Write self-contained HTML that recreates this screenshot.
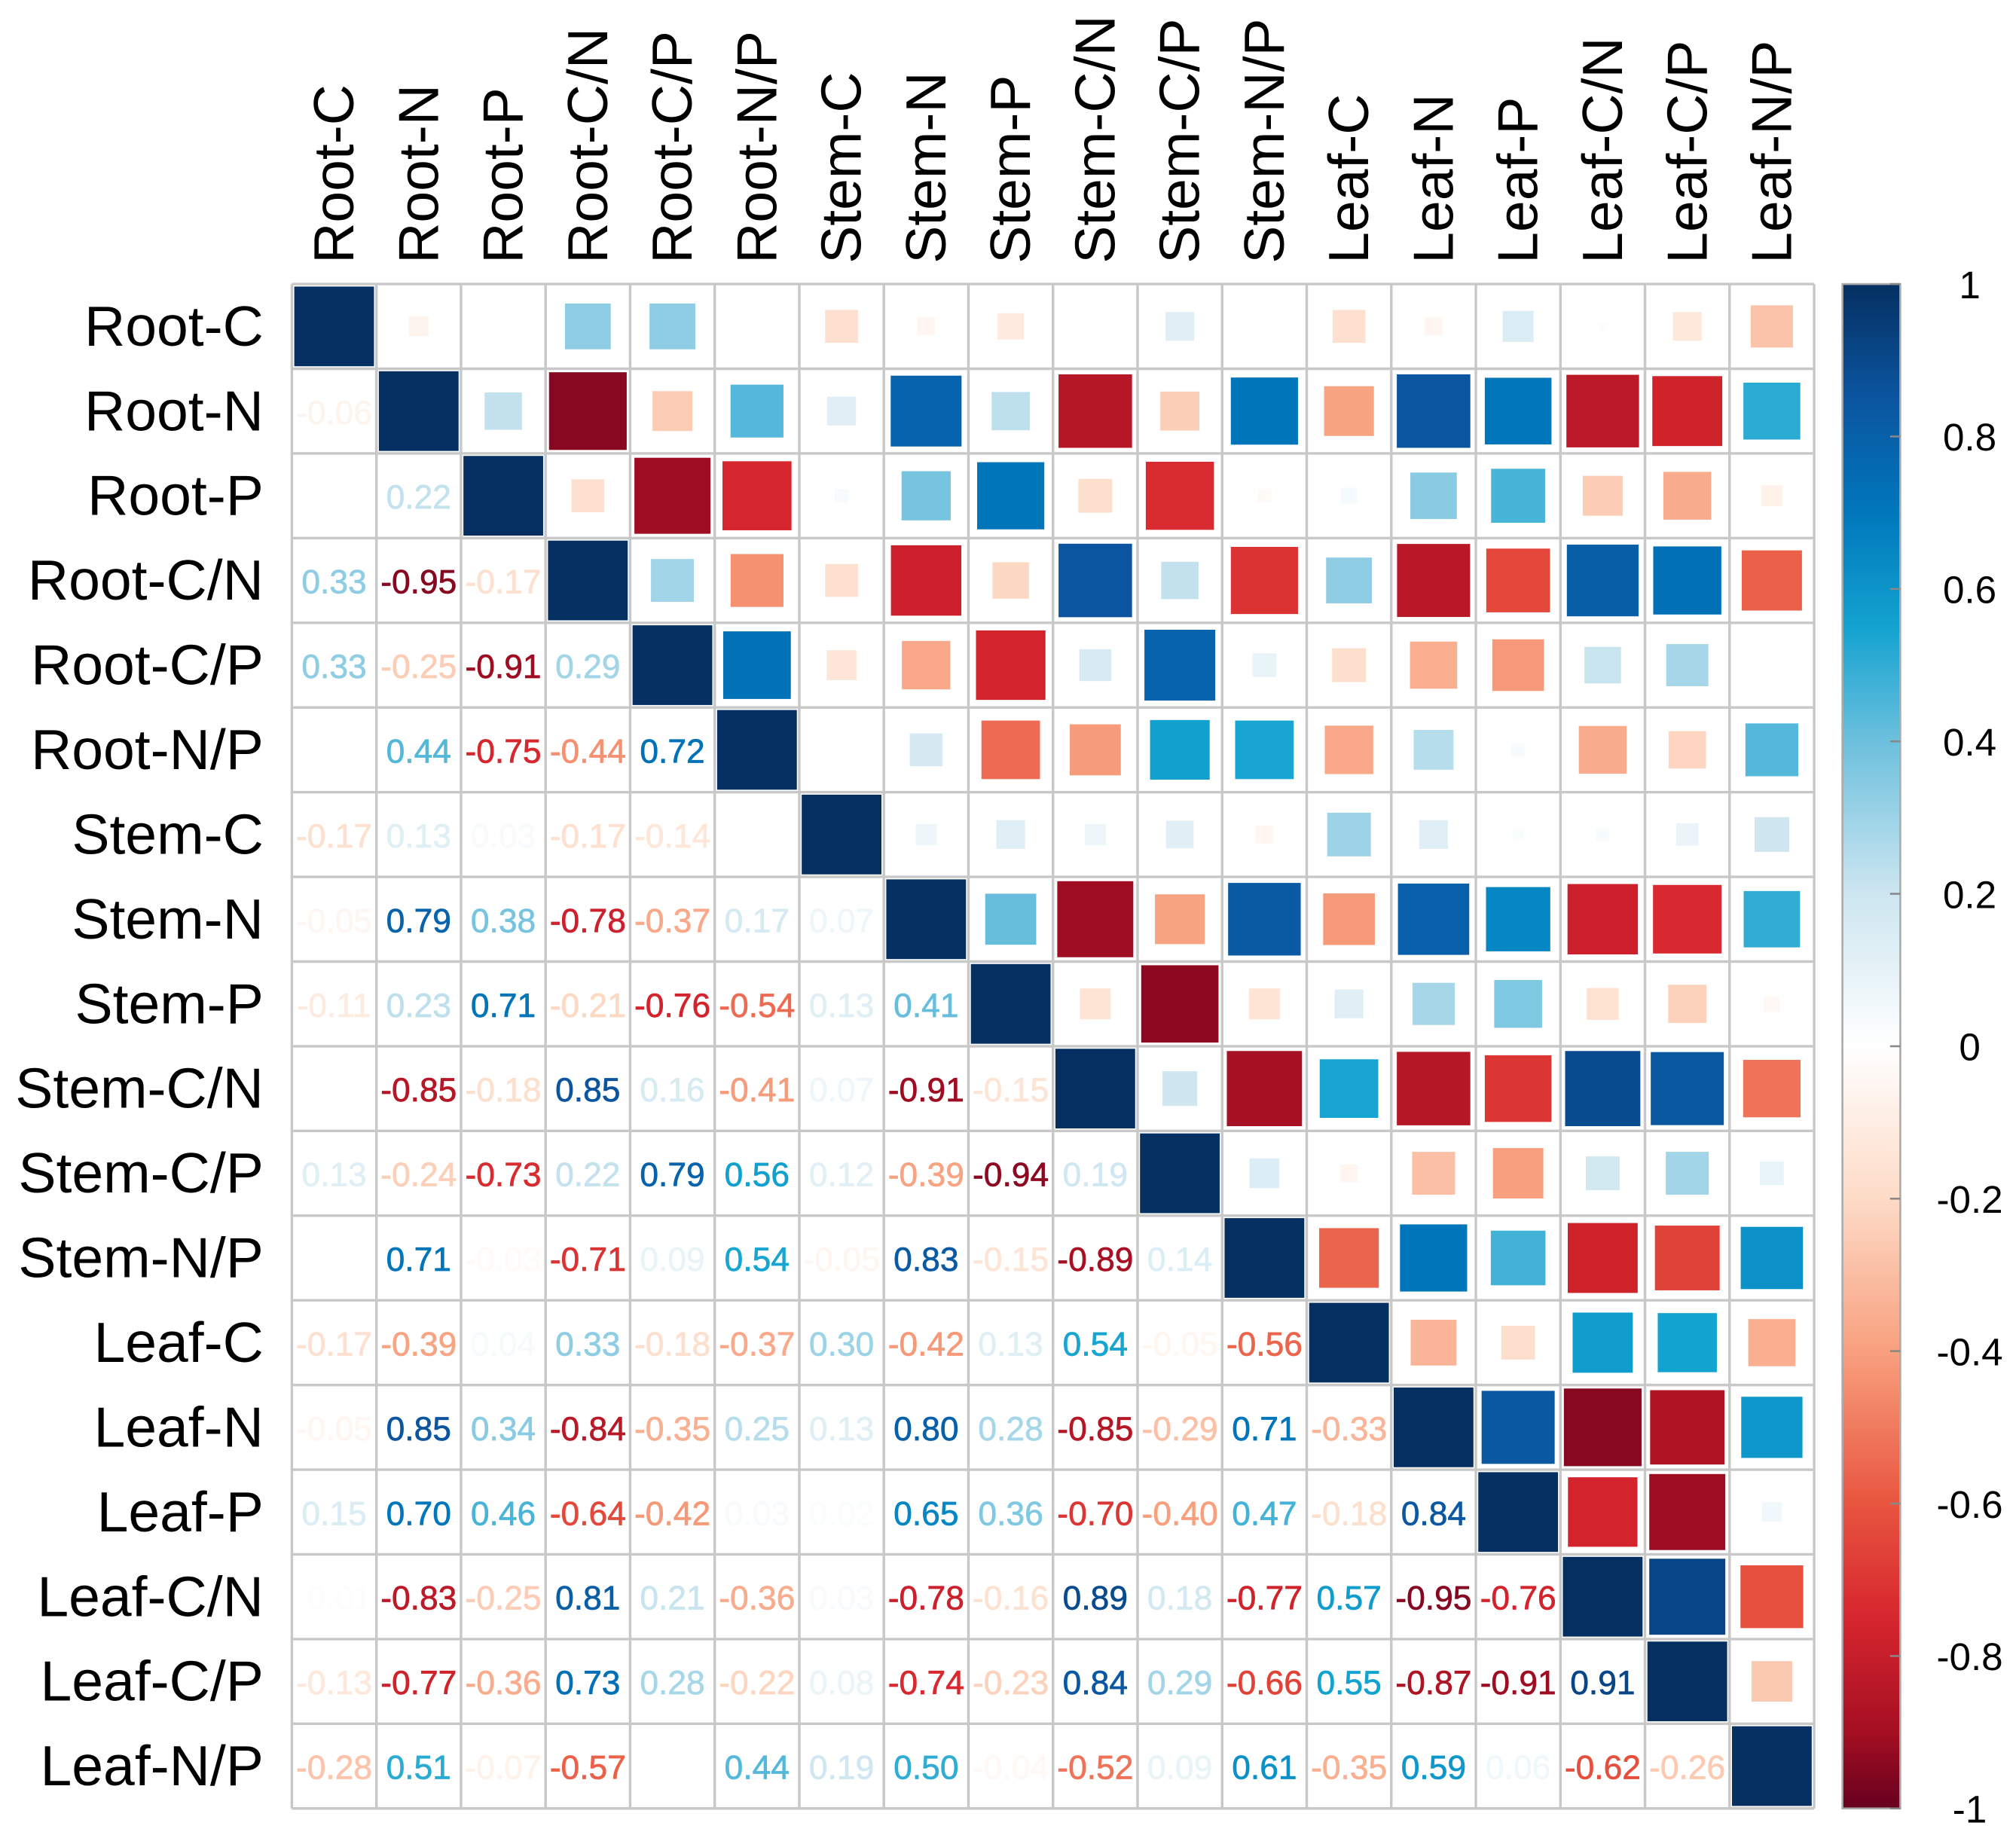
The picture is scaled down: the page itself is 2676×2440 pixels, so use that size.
<!DOCTYPE html>
<html><head><meta charset="utf-8"><style>
html,body{margin:0;padding:0;background:#fff;}
svg{display:block;}
text{font-family:"Liberation Sans",sans-serif;}
</style></head>
<body>
<svg id="chart" width="2676" height="2440" viewBox="0 0 1568 1430" preserveAspectRatio="none" xmlns="http://www.w3.org/2000/svg">
<defs>
<linearGradient id="cbar" x1="0" y1="1" x2="0" y2="0"></linearGradient>
</defs>
<g id="grid"></g>
<g id="labels"></g>
<g id="legend"></g>
</svg>
<script>
const variables = ["Root-C","Root-N","Root-P","Root-C/N","Root-C/P","Root-N/P","Stem-C","Stem-N","Stem-P","Stem-C/N","Stem-C/P","Stem-N/P","Leaf-C","Leaf-N","Leaf-P","Leaf-C/N","Leaf-C/P","Leaf-N/P"];
const lowerRows = [
 [],
 [-0.06],
 [0.00,0.22],
 [0.33,-0.95,-0.17],
 [0.33,-0.25,-0.91,0.29],
 [0.01,0.44,-0.75,-0.44,0.72],
 [-0.17,0.13,0.03,-0.17,-0.14,0.01],
 [-0.05,0.79,0.38,-0.78,-0.37,0.17,0.07],
 [-0.11,0.23,0.71,-0.21,-0.76,-0.54,0.13,0.41],
 [0.00,-0.85,-0.18,0.85,0.16,-0.41,0.07,-0.91,-0.15],
 [0.13,-0.24,-0.73,0.22,0.79,0.56,0.12,-0.39,-0.94,0.19],
 [0.01,0.71,-0.03,-0.71,0.09,0.54,-0.05,0.83,-0.15,-0.89,0.14],
 [-0.17,-0.39,0.04,0.33,-0.18,-0.37,0.30,-0.42,0.13,0.54,-0.05,-0.56],
 [-0.05,0.85,0.34,-0.84,-0.35,0.25,0.13,0.80,0.28,-0.85,-0.29,0.71,-0.33],
 [0.15,0.70,0.46,-0.64,-0.42,0.03,0.02,0.65,0.36,-0.70,-0.40,0.47,-0.18,0.84],
 [-0.01,-0.83,-0.25,0.81,0.21,-0.36,0.03,-0.78,-0.16,0.89,0.18,-0.77,0.57,-0.95,-0.76],
 [-0.13,-0.77,-0.36,0.73,0.28,-0.22,0.08,-0.74,-0.23,0.84,0.29,-0.66,0.55,-0.87,-0.91,0.91],
 [-0.28,0.51,-0.07,-0.57,0.01,0.44,0.19,0.50,-0.04,-0.52,0.09,0.61,-0.35,0.59,0.06,-0.62,-0.26]
];
const legendTicks = [1,0.8,0.6,0.4,0.2,0,-0.2,-0.4,-0.6,-0.8,-1];
const legendTickLabels = ["1","0.8","0.6","0.4","0.2","0","-0.2","-0.4","-0.6","-0.8","-1"];
const colorStops = [[-1,"#67001F"],[-0.9,"#A50F22"],[-0.75,"#D6262E"],[-0.6,"#E8553F"],[-0.4,"#F8A07E"],[-0.2,"#FDDBC7"],[0,"#FFFFFF"],[0.2,"#CDE6F0"],[0.4,"#6CC0DD"],[0.55,"#13A3D0"],[0.7,"#0077BB"],[0.85,"#0B55A0"],[1,"#053061"]];

const NS="http://www.w3.org/2000/svg";
const gx0=227, gy0=221, gx1=1411, gy1=1407, n=variables.length;
const cw=(gx1-gx0)/n, ch=(gy1-gy0)/n;
const xCell=i=>gx0+i*cw, yCell=j=>gy0+j*ch;
const cbX=1433, cbW=45, cbTop=221, cbBot=1407;
const yLegend=v=>cbTop+(1-v)/2*(cbBot-cbTop);
function hex(c){return [parseInt(c.slice(1,3),16),parseInt(c.slice(3,5),16),parseInt(c.slice(5,7),16)];}
function colorFor(v){
  for(let k=0;k<colorStops.length-1;k++){
    const [a,ca]=colorStops[k],[b,cb]=colorStops[k+1];
    if(v>=a&&v<=b){const t=(v-a)/(b-a);const A=hex(ca),B=hex(cb);
      return "rgb("+A.map((x,i)=>Math.round(x+(B[i]-x)*t)).join(",")+")";}
  }
  return v<0?colorStops[0][1]:colorStops[colorStops.length-1][1];
}
function el(tag,attrs,parent){const e=document.createElementNS(NS,tag);for(const k in attrs)e.setAttribute(k,attrs[k]);parent.appendChild(e);return e;}
function val(i,j){ if(i===j) return 1; return i>j?lowerRows[i][j]:lowerRows[j][i]; }

const grid=document.getElementById('grid');
for(let r=0;r<n;r++){for(let c=0;c<n;c++){
  const v=val(r,c), x=xCell(c), y=yCell(r);
  if(c>=r){
    const s=(c===r?62:Math.sqrt(Math.abs(v))*62);
    const sq=el('rect',{x:x+cw/2-s/2,y:y+ch/2-s/2,width:s,height:s,fill:colorFor(v)},grid);
    
    
  } else {
    const col=colorFor(v);
    const t=el('text',{x:x+cw/2,y:y+ch/2+10,'text-anchor':'middle','font-size':26,fill:col,stroke:col,'stroke-width':0.4},grid);
    t.textContent=v.toFixed(2);
    
    
  }
}}
for(let k=0;k<=n;k++){
  const l1=el('line',{x1:xCell(k),y1:gy0,x2:xCell(k),y2:gy1,stroke:'#c8c8c8','stroke-width':2},grid);
  
  
  const l2=el('line',{x1:gx0,y1:yCell(k),x2:gx1,y2:yCell(k),stroke:'#c8c8c8','stroke-width':2},grid);
  
  
}
const labels=document.getElementById('labels');
variables.forEach((name,i)=>{
  const t=el('text',{x:205,y:yCell(i)+ch/2+15,'text-anchor':'end','font-size':44,fill:'#000'},labels);
  t.textContent=name;
  
  
  const cx=xCell(i)+cw/2+15;
  const u=el('text',{x:cx,y:205,'text-anchor':'start','font-size':44,fill:'#000',transform:'rotate(-90 '+cx+' 205)'},labels);
  u.textContent=name;
  
  
});
const grad=document.getElementById('cbar');
colorStops.forEach(([v,c])=>{el('stop',{offset:((v+1)/2*100)+'%','stop-color':c},grad);});
const legend=document.getElementById('legend');
const bar=el('rect',{x:cbX,y:cbTop,width:cbW,height:cbBot-cbTop,fill:'url(#cbar)',stroke:'#aaa','stroke-width':1.5},legend);


legendTicks.forEach((v,i)=>{
  const y=yLegend(v);
  const tk=el('line',{x1:cbX+cbW-8,y1:y,x2:cbX+cbW,y2:y,stroke:'#888','stroke-width':1.5},legend);
  
  
  const t=el('text',{x:1532,y:y+11,'text-anchor':'middle','font-size':30,fill:'#000'},legend);
  t.textContent=legendTickLabels[i];
  
  
});
</script>
</body></html>
